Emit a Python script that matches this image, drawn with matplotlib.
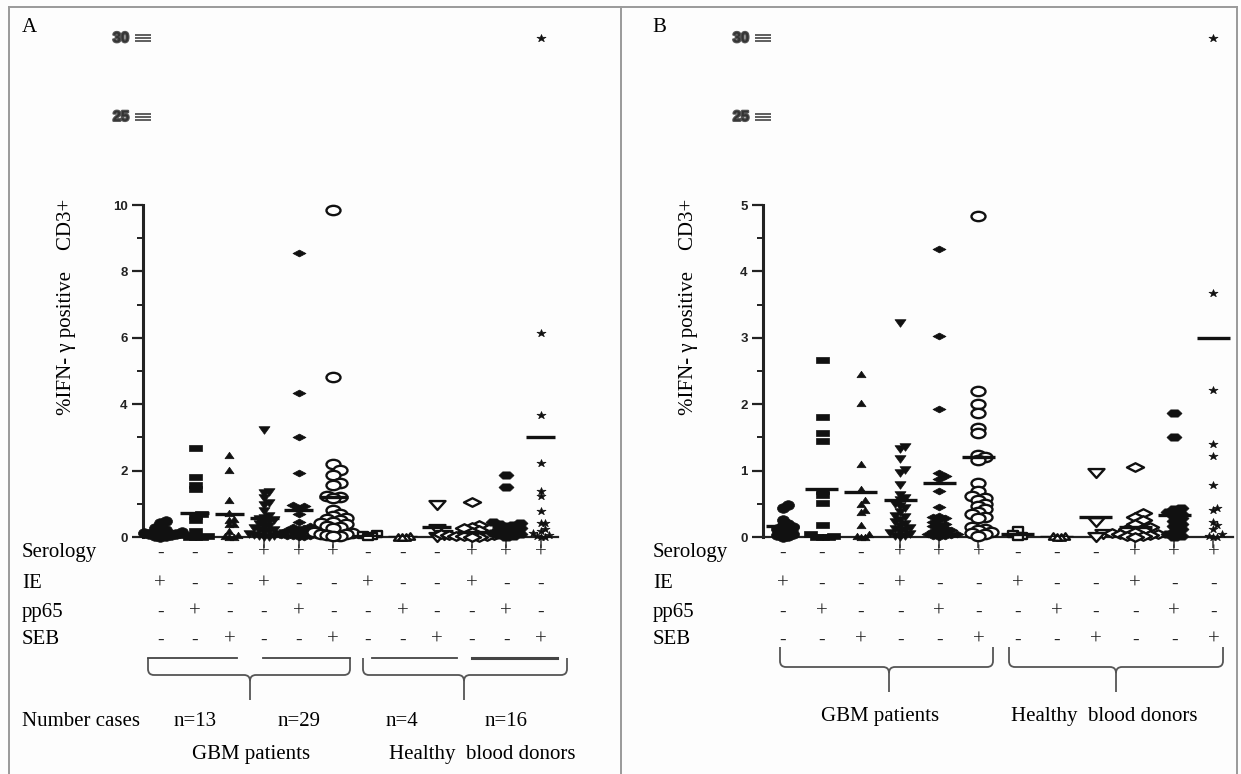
import numpy as np
import matplotlib
matplotlib.use("Agg")
import matplotlib.pyplot as plt
import matplotlib.patheffects as pe
from matplotlib.markers import MarkerStyle
from matplotlib.path import Path
from matplotlib.patches import PathPatch
from matplotlib.lines import Line2D
from matplotlib.transforms import Affine2D, blended_transform_factory

W, H = 1241, 774
SERIF = "Liberation Serif"
SANS = "Liberation Sans"

# %IFN-gamma positive CD3+ per subject (same data in A and B)
g1 = [0.48, 0.43, 0.26, 0.20, 0.18, 0.15, 0.12, 0.10, 0.08, 0.05, 0.03, 0.02, 0.0]
g2 = [2.67, 1.81, 1.56, 1.44, 0.70, 0.63, 0.51, 0.18, 0.05, 0.02, 0.0, 0.0, 0.0]
g3 = [2.46, 2.02, 1.10, 0.72, 0.55, 0.50, 0.40, 0.38, 0.18, 0.05, 0.02, 0.0, 0.0]
g4 = [3.22, 1.35, 1.32, 1.17, 1.01, 0.97, 0.78, 0.63, 0.58, 0.55, 0.50, 0.47, 0.44, 0.38,
      0.32, 0.30, 0.26, 0.22, 0.20, 0.17, 0.14, 0.12, 0.10, 0.08, 0.06, 0.04, 0.02, 0.01, 0.0]
g5 = [8.55, 4.33, 3.02, 1.93, 0.97, 0.92, 0.88, 0.70, 0.45, 0.32, 0.30, 0.28, 0.25, 0.22,
      0.20, 0.18, 0.16, 0.14, 0.12, 0.10, 0.09, 0.08, 0.06, 0.05, 0.04, 0.03, 0.02, 0.01, 0.0]
g6 = [9.85, 4.83, 2.20, 2.01, 1.86, 1.64, 1.56, 1.24, 1.20, 1.16, 0.81, 0.70, 0.62, 0.58,
      0.55, 0.50, 0.46, 0.42, 0.38, 0.34, 0.30, 0.28, 0.15, 0.12, 0.10, 0.08, 0.06, 0.04, 0.02]
g7 = [0.10, 0.05, 0.02, 0.0]
g8 = [0.02, 0.01, 0.0, 0.0]
g9 = [0.96, 0.23, 0.05, 0.0]
g10 = [1.06, 0.36, 0.30, 0.26, 0.20, 0.15, 0.12, 0.10, 0.08, 0.06, 0.05, 0.04, 0.03, 0.02, 0.01, 0.0]
g11 = [1.86, 1.50, 0.44, 0.42, 0.38, 0.35, 0.32, 0.28, 0.24, 0.20, 0.16, 0.12, 0.08, 0.05, 0.02, 0.0]
g12 = [30.0, 6.15, 3.68, 2.22, 1.40, 1.22, 0.78, 0.43, 0.41, 0.23, 0.18, 0.12, 0.05, 0.02, 0.0, 0.0]
groups = [g1, g2, g3, g4, g5, g6, g7, g8, g9, g10, g11, g12]

means = [0.17, 0.72, 0.68, 0.56, 0.82, 1.21, 0.04, 0.0, 0.30, 0.15, 0.33, 3.0]

serology = ["-", "-", "-", "+", "+", "+", "-", "-", "-", "+", "+", "+"]
ie = ["+", "-", "-", "+", "-", "-", "+", "-", "-", "+", "-", "-"]
pp65 = ["-", "+", "-", "-", "+", "-", "-", "+", "-", "-", "+", "-"]
seb = ["-", "-", "+", "-", "-", "+", "-", "-", "+", "-", "-", "+"]
row_names = ["Serology", "IE", "pp65", "SEB"]
rows = [serology, ie, pp65, seb]

n_cases = ["n=13", "n=29", "n=4", "n=16"]
n_pos = [1, 4, 7, 10]

# upper (broken) segment of the y axis
break_ticks = [25, 30]

# marker look per group: symbol, horizontal stretch, width in px, filled
m_sym = ["o", "s", "^", "v", "D", "o", "s", "^", "v", "D", "H", "*"]
m_sx = [1.25, 2.0, 1.4, 1.45, 1.9, 1.5, 1.6, 1.4, 1.8, 2.0, 1.8, 1.2]
m_px = [12, 13, 9, 11, 13, 14, 10, 9, 16, 17, 15, 9]
m_fill = [True, True, True, True, True, False, False, False, False, False, True, True]


def stretched(sym, sx):
    ms = MarkerStyle(sym)
    p = ms.get_path().transformed(ms.get_transform())
    return p.transformed(Affine2D().scale(sx, 1.0))


def swarm_x(ax, xc, vals, w_px, h_px):
    pts = ax.transData.transform(np.column_stack([np.full(len(vals), xc), vals]))
    ypix = pts[:, 1]
    step = w_px * 0.45
    placed = []
    offs = np.zeros(len(vals))
    for i in np.argsort(ypix):
        k = 0
        while True:
            c = step * ((k + 1) // 2) * (1 if k % 2 else -1)
            if all(abs(c - px) >= step * 0.999 or abs(ypix[i] - py) >= h_px * 0.55
                   for px, py in placed):
                break
            k += 1
        placed.append((c, ypix[i]))
        offs[i] = c
    back = ax.transData.inverted().transform(np.column_stack([pts[:, 0] + offs, ypix]))
    return back[:, 0]


fig = plt.figure(figsize=(W / 100, H / 100), dpi=100)
fig.patch.set_facecolor("#fdfdfd")
pxT = Affine2D().scale(1 / W, -1 / H).translate(0, 1) + fig.transFigure


def draw_panel(left, width, ymax, major, minor, letter, letter_x, ylab_x, row_x):
    ax = fig.add_axes([left / W, (H - 537) / H, width / W, 332 / H])
    up = fig.add_axes([left / W, (H - 120) / H, width / W, 85 / H])
    ax.set_xlim(-0.5, 11.5)
    ax.set_ylim(0, ymax)
    up.set_xlim(-0.5, 11.5)
    up.set_ylim(break_ticks[0], break_ticks[-1])
    for a in (ax, up):
        a.patch.set_alpha(0)
        a.spines["top"].set_visible(False)
        a.spines["right"].set_visible(False)
    for s in up.spines.values():
        s.set_visible(False)

    ax.spines["left"].set_linewidth(2.2)
    ax.spines["bottom"].set_linewidth(1.6)
    ax.spines["left"].set_color("#222")
    ax.spines["bottom"].set_color("#222")
    ax.set_yticks(major)
    ax.set_yticklabels([f"{v:g}" for v in major], fontweight="bold", fontsize=9.5, family=SANS)
    ax.set_yticks(minor, minor=True)
    ax.tick_params(axis="y", which="major", length=8, width=1.6, pad=3, colors="#222")
    ax.tick_params(axis="y", which="minor", length=4, width=1.4, colors="#222")
    ax.set_xticks([3, 4, 5, 9, 10, 11])
    ax.set_xticklabels([])
    ax.tick_params(axis="x", length=8, width=1.1, colors="#333")

    # broken upper segment; the original prints smeared labels and stacked ticks
    up.set_xticks([])
    up.set_yticks([v + d for v in break_ticks for d in (-0.2, 0, 0.2)])
    up.set_yticklabels([])
    up.tick_params(axis="y", direction="inout", length=11, width=1.1, colors="#333")
    lab = blended_transform_factory(pxT, up.transData)
    for val in break_ticks:
        up.text(left - 22, val, f"{val:g}", transform=lab, ha="center", va="center",
                fontsize=10.5, fontweight="bold", family=SANS, color="#333",
                path_effects=[pe.withStroke(linewidth=1.6, foreground="#555")])

    for i, vals in enumerate(groups):
        vals = np.array(vals)
        path = stretched(m_sym[i], m_sx[i])
        w = m_px[i]
        h = w / m_sx[i]
        style = dict(linestyle="none", marker=path, ms=w * 0.72, clip_on=False,
                     mec="#111", zorder=3)
        if m_fill[i]:
            style.update(mfc="#111", mew=0.5)
        else:
            style.update(mfc="white", mew=1.7)
        low = vals[vals <= ymax]
        ax.plot(swarm_x(ax, i, low, w, h), low, **style)
        high = vals[vals > 10]
        if len(high):
            up.plot(np.full(len(high), i), high, **style)
    ax.hlines(means, np.arange(12) - 0.42, np.arange(12) + 0.42, colors="#111",
              linewidth=2.4, zorder=4)

    fig.text(letter_x, 28, letter, transform=pxT, fontsize=15, family=SERIF,
             ha="left", va="center")
    fig.text(ylab_x, 307, "%IFN- \u03b3 positive    CD3+", transform=pxT, rotation=90,
             fontsize=15, family=SERIF, ha="center", va="center")

    colT = blended_transform_factory(ax.transData, pxT)
    for y, name, signs in zip([553, 584, 612, 640], row_names, rows):
        fig.text(row_x, y, name, transform=pxT, fontsize=15, family=SERIF,
                 ha="left", va="center")
        for i, s in enumerate(signs):
            ax.text(i, y, s, transform=colT, fontsize=15 if s == "+" else 14,
                    family=SERIF, ha="center", va="center", color="#222")
    return ax, colT


def brace(x0, x1, xm, ytop, ybot, ytip, r=6, lw=1.3, color="#555"):
    verts = [(x0, ytop), (x0, ybot - r), (x0, ybot), (x0 + r, ybot),
             (xm - r, ybot), (xm, ybot), (xm, ybot + r), (xm, ytip),
             (xm, ybot + r), (xm, ybot), (xm + r, ybot),
             (x1 - r, ybot), (x1, ybot), (x1, ybot - r), (x1, ytop)]
    codes = [Path.MOVETO, Path.LINETO, Path.CURVE3, Path.CURVE3,
             Path.LINETO, Path.CURVE3, Path.CURVE3, Path.LINETO,
             Path.MOVETO, Path.CURVE3, Path.CURVE3,
             Path.LINETO, Path.CURVE3, Path.CURVE3, Path.LINETO]
    fig.add_artist(PathPatch(Path(verts, codes), fill=False, lw=lw, ec=color,
                             transform=pxT))


# panel A
axA, colA = draw_panel(143, 415, 10, np.arange(0, 11, 2), np.arange(1, 10, 2),
                       "A", 22, 67, 22)
brace(148, 350, 250, 658, 675, 700)
brace(363, 567, 464, 658, 675, 700)
for x0, x1, lw in [(148, 237, 1.3), (263, 350, 1.3), (372, 457, 1.3), (472, 557, 2.2)]:
    fig.add_artist(Line2D([x0, x1], [658, 658], color="#444", lw=lw, transform=pxT))
fig.text(22, 722, "Number cases", transform=pxT, fontsize=15, family=SERIF,
         ha="left", va="center")
for p, t in zip(n_pos, n_cases):
    axA.text(p, 722, t, transform=colA, fontsize=15, family=SERIF, ha="center", va="center")
fig.text(251, 754, "GBM patients", transform=pxT, fontsize=15, family=SERIF,
         ha="center", va="center")
fig.text(482, 754, "Healthy  blood donors", transform=pxT, fontsize=15, family=SERIF,
         ha="center", va="center")

# panel B
axB, colB = draw_panel(763, 470, 5, np.arange(0, 6, 1), np.arange(0.5, 5, 1),
                       "B", 652, 689, 653)
brace(780, 993, 889, 647, 667, 692)
brace(1009, 1223, 1116, 647, 667, 692)
fig.text(880, 716, "GBM patients", transform=pxT, fontsize=15, family=SERIF,
         ha="center", va="center")
fig.text(1104, 716, "Healthy  blood donors", transform=pxT, fontsize=15, family=SERIF,
         ha="center", va="center")

# frame around the two panels
for xs, ys in [([9, 1237], [7, 7]), ([9, 9], [7, 774]), ([621, 621], [7, 774]),
               ([1237, 1237], [7, 774])]:
    fig.add_artist(Line2D(xs, ys, color="#9a9a9a", lw=1.4, transform=pxT))

fig.savefig("out.png", dpi=100, facecolor=fig.get_facecolor())
